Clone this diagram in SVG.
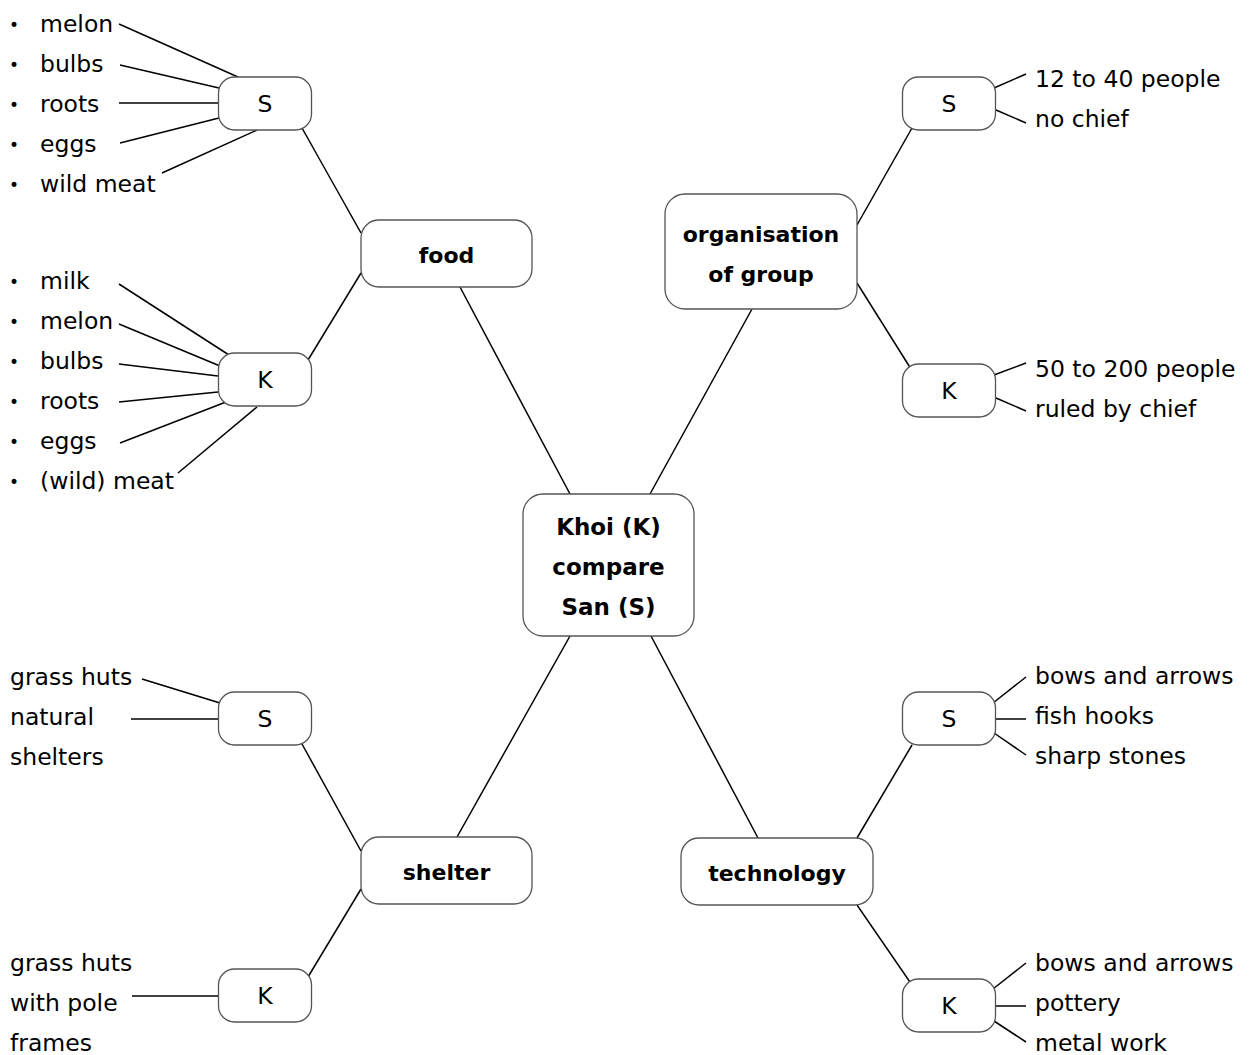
<svg xmlns="http://www.w3.org/2000/svg" width="1250" height="1055" viewBox="0 0 1250 1055">
<style>
.box{fill:#fff;stroke:#555;stroke-width:1.3}
.ln{stroke:#000;stroke-width:1.5;fill:none}
.t{font-family:"DejaVu Sans",sans-serif;font-size:23.5px;fill:#000}
.c{text-anchor:middle}
.bu{font-family:"DejaVu Sans",sans-serif;font-size:17px;fill:#000;text-anchor:middle}
.b{font-family:"DejaVu Sans",sans-serif;font-size:22px;font-weight:bold;fill:#000;text-anchor:middle}
.bc{font-size:23px}
</style>
<rect width="1250" height="1055" fill="#fff"/>
<g id="connectors" class="ln">
<line x1="570" y1="494" x2="460" y2="287"/>
<line x1="650" y1="494" x2="752" y2="309"/>
<line x1="570" y1="636" x2="457" y2="837"/>
<line x1="651" y1="636" x2="758" y2="838"/>
<line x1="361" y1="233" x2="302" y2="128"/>
<line x1="361" y1="273" x2="308" y2="360"/>
<line x1="857" y1="225" x2="912" y2="128"/>
<line x1="857" y1="283" x2="911" y2="369"/>
<line x1="361" y1="851" x2="302" y2="744"/>
<line x1="361" y1="889" x2="308" y2="977"/>
<line x1="857" y1="838" x2="912" y2="745"/>
<line x1="857" y1="905" x2="912" y2="985"/>
<line x1="119" y1="24" x2="238" y2="77"/>
<line x1="120" y1="65" x2="219" y2="88"/>
<line x1="119" y1="103" x2="218" y2="103"/>
<line x1="120" y1="143" x2="219" y2="118"/>
<line x1="162" y1="173" x2="257" y2="130"/>
<line x1="119" y1="284" x2="229" y2="355"/>
<line x1="119" y1="324" x2="220" y2="366"/>
<line x1="119" y1="364" x2="218" y2="376"/>
<line x1="119" y1="402" x2="218" y2="392"/>
<line x1="120" y1="443" x2="226" y2="402"/>
<line x1="178" y1="473" x2="257" y2="407"/>
<line x1="994" y1="88" x2="1026" y2="74"/>
<line x1="996" y1="110" x2="1026" y2="123"/>
<line x1="994" y1="375" x2="1026" y2="363"/>
<line x1="996" y1="398" x2="1026" y2="411"/>
<line x1="993" y1="703" x2="1026" y2="677"/>
<line x1="996" y1="719" x2="1026" y2="719"/>
<line x1="994" y1="733" x2="1026" y2="755"/>
<line x1="993" y1="989" x2="1026" y2="963"/>
<line x1="996" y1="1006" x2="1026" y2="1006"/>
<line x1="994" y1="1021" x2="1026" y2="1042"/>
<line x1="142" y1="679" x2="220" y2="703"/>
<line x1="131" y1="719" x2="218" y2="719"/>
<line x1="132" y1="996" x2="218" y2="996"/>
</g>
<g id="center">
<rect class="box" x="523" y="494" width="171" height="142" rx="20"/>
<text class="b bc" x="608.5" y="535">Khoi (K)</text>
<text class="b bc" x="608.5" y="575">compare</text>
<text class="b bc" x="608.5" y="615">San (S)</text>
</g>
<g id="food">
<rect class="box" x="361" y="220" width="171" height="67" rx="18"/>
<text class="b" x="446.5" y="263">food</text>
</g>
<g id="organisation">
<rect class="box" x="665" y="194" width="192" height="115" rx="20"/>
<text class="b" x="761" y="242">organisation</text>
<text class="b" x="761" y="282">of group</text>
</g>
<g id="shelter">
<rect class="box" x="361" y="837" width="171" height="67" rx="18"/>
<text class="b" x="446.5" y="880">shelter</text>
</g>
<g id="technology">
<rect class="box" x="681" y="838" width="192" height="67" rx="18"/>
<text class="b" x="777" y="881">technology</text>
</g>
<g id="food-s">
<rect class="box" x="218.5" y="77" width="93" height="53" rx="16"/>
<text class="t c" x="265" y="112">S</text>
</g>
<g id="food-k">
<rect class="box" x="218.5" y="353" width="93" height="53" rx="16"/>
<text class="t c" x="265" y="388">K</text>
</g>
<g id="org-s">
<rect class="box" x="902.5" y="77" width="93" height="53" rx="16"/>
<text class="t c" x="949" y="112">S</text>
</g>
<g id="org-k">
<rect class="box" x="902.5" y="364" width="93" height="53" rx="16"/>
<text class="t c" x="949" y="399">K</text>
</g>
<g id="shelter-s">
<rect class="box" x="218.5" y="692" width="93" height="53" rx="16"/>
<text class="t c" x="265" y="727">S</text>
</g>
<g id="shelter-k">
<rect class="box" x="218.5" y="969" width="93" height="53" rx="16"/>
<text class="t c" x="265" y="1004">K</text>
</g>
<g id="tech-s">
<rect class="box" x="902.5" y="692" width="93" height="53" rx="16"/>
<text class="t c" x="949" y="727">S</text>
</g>
<g id="tech-k">
<rect class="box" x="902.5" y="979" width="93" height="53" rx="16"/>
<text class="t c" x="949" y="1014">K</text>
</g>
<g id="food-s-items">
<text class="bu" x="14" y="31">•</text><text class="t" x="40" y="32">melon</text>
<text class="bu" x="14" y="71">•</text><text class="t" x="40" y="72">bulbs</text>
<text class="bu" x="14" y="111">•</text><text class="t" x="40" y="112">roots</text>
<text class="bu" x="14" y="151">•</text><text class="t" x="40" y="152">eggs</text>
<text class="bu" x="14" y="191">•</text><text class="t" x="40" y="192">wild meat</text>
</g>
<g id="food-k-items">
<text class="bu" x="14" y="288">•</text><text class="t" x="40" y="289">milk</text>
<text class="bu" x="14" y="328">•</text><text class="t" x="40" y="329">melon</text>
<text class="bu" x="14" y="368">•</text><text class="t" x="40" y="369">bulbs</text>
<text class="bu" x="14" y="408">•</text><text class="t" x="40" y="409">roots</text>
<text class="bu" x="14" y="448">•</text><text class="t" x="40" y="449">eggs</text>
<text class="bu" x="14" y="488">•</text><text class="t" x="40" y="489">(wild) meat</text>
</g>
<g id="org-items">
<text class="t" x="1035" y="87">12 to 40 people</text>
<text class="t" x="1035" y="127">no chief</text>
<text class="t" x="1035" y="377">50 to 200 people</text>
<text class="t" x="1035" y="417">ruled by chief</text>
</g>
<g id="tech-items">
<text class="t" x="1035" y="684">bows and arrows</text>
<text class="t" x="1035" y="724">fish hooks</text>
<text class="t" x="1035" y="764">sharp stones</text>
<text class="t" x="1035" y="971">bows and arrows</text>
<text class="t" x="1035" y="1011">pottery</text>
<text class="t" x="1035" y="1051">metal work</text>
</g>
<g id="shelter-items">
<text class="t" x="10" y="685">grass huts</text>
<text class="t" x="10" y="725">natural</text>
<text class="t" x="10" y="765">shelters</text>
<text class="t" x="10" y="971">grass huts</text>
<text class="t" x="10" y="1011">with pole</text>
<text class="t" x="10" y="1051">frames</text>
</g>
</svg>
